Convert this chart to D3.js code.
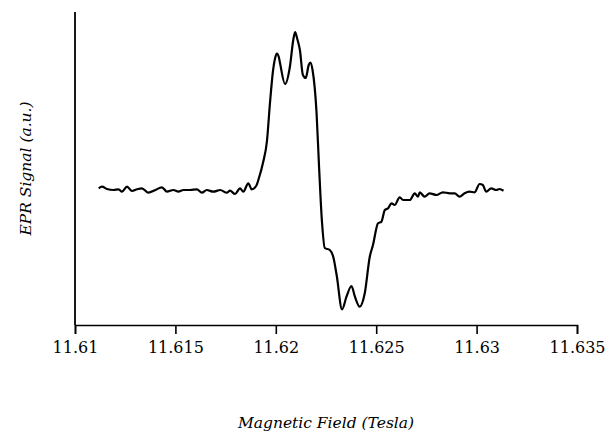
<!DOCTYPE html>
<html>
<head>
<meta charset="utf-8">
<script src="https://cdn.jsdelivr.net/npm/d3@7"></script>
<style>
  html, body { margin: 0; padding: 0; background: #fff; }
  svg { display: block; }
</style>
</head>
<body>
<div id="chart"></div>
<script>
// magnetic field (Tesla)
const field = [
  11.61118, 11.61135, 11.61159, 11.61192, 11.61217, 11.61234, 11.61259, 11.61284, 11.61309, 11.61333,
  11.61366, 11.61400, 11.61433, 11.61458, 11.61490, 11.61515, 11.61540, 11.61573, 11.61607, 11.61632,
  11.61656, 11.61689, 11.61723, 11.61756, 11.61772, 11.61797, 11.61822, 11.61838, 11.61863, 11.61880,
  11.61902, 11.61916, 11.61936, 11.61956, 11.61971, 11.61986, 11.61998, 11.62005, 11.62015, 11.62021,
  11.62046, 11.62070, 11.62087, 11.62096, 11.62107, 11.62120, 11.62135, 11.62149, 11.62164, 11.62172,
  11.62183, 11.62203, 11.62215, 11.62230, 11.62244,
  11.62269, 11.62286, 11.62303, 11.62330, 11.62352, 11.62377, 11.62394, 11.62418, 11.62443, 11.62468,
  11.62484, 11.62509, 11.62526, 11.62543, 11.62559, 11.62576, 11.62592, 11.62617, 11.62634, 11.62667,
  11.62692, 11.62708, 11.62717, 11.62741, 11.62766, 11.62800, 11.62832, 11.62866, 11.62891, 11.62915,
  11.62940, 11.62965, 11.62990, 11.63015, 11.63031, 11.63048, 11.63073, 11.63098, 11.63114, 11.63134
];

// EPR signal, arbitrary units (0 = baseline)
const signal = [
  -0.003, 0.013, -0.01, -0.02, -0.013, -0.037, 0.013, -0.03, -0.013, -0.003,
  -0.047, -0.02, 0.007, -0.037, -0.02, -0.037, -0.02, -0.02, -0.013, -0.047,
  -0.02, -0.037, -0.02, -0.047, -0.027, -0.06, -0.003, -0.037, 0.047, -0.013,
  0.02, 0.10, 0.25, 0.47, 0.85, 1.17, 1.31, 1.345, 1.31, 1.25,
  1.04, 1.21, 1.48, 1.56, 1.49, 1.38, 1.13, 1.10, 1.23, 1.255,
  1.18, 0.75, 0.23, -0.34, -0.60,
  -0.62, -0.687, -0.87, -1.213, -1.087, -0.98, -1.087, -1.187, -1.053, -0.687,
  -0.57, -0.353, -0.337, -0.22, -0.203, -0.153, -0.17, -0.093, -0.12, -0.12,
  -0.053, -0.087, -0.043, -0.087, -0.053, -0.07, -0.043, -0.053, -0.053, -0.087,
  -0.053, -0.037, -0.043, 0.04, 0.03, -0.037, -0.003, -0.02, -0.01, -0.027
];

const xTicks = [11.61, 11.615, 11.62, 11.625, 11.63, 11.635];
const xDomain = [11.61, 11.635];
const yDomain = [-1.37, 1.76];

const width = 608;
const height = 435;
const margin = { top: 12, right: 31, bottom: 110, left: 75 };

// Liberation Serif is not picked up here, DejaVu Serif is
const serif = 'DejaVu Serif';

const svg = d3.select('#chart')
  .append('svg')
  .attr('width', width)
  .attr('height', height);

const x = d3.scaleLinear()
  .domain(xDomain)
  .range([margin.left, width - margin.right]);

const y = d3.scaleLinear()
  .domain(yDomain)
  .range([height - margin.bottom, margin.top]);

// x axis
const xAxis = svg.append('g')
  .attr('transform', `translate(0,${height - margin.bottom})`)
  .call(d3.axisBottom(x)
    .tickValues(xTicks)
    .tickFormat(d3.format('~g'))
    .tickSizeOuter(0)
    .tickSize(9)
    .tickPadding(8));

xAxis.attr('font-family', serif).attr('font-size', 16);
xAxis.select('.domain').attr('stroke', '#000').attr('stroke-width', 1.6);
xAxis.selectAll('.tick line').attr('stroke', '#000').attr('stroke-width', 1.6);
xAxis.selectAll('.tick text').attr('fill', '#000');

// y axis: bare line, no ticks
svg.append('line')
  .attr('x1', x(xDomain[0]))
  .attr('x2', x(xDomain[0]))
  .attr('y1', y(yDomain[1]))
  .attr('y2', y(yDomain[0]))
  .attr('stroke', '#000')
  .attr('stroke-width', 1.8);

// the trace
const points = field.map((f, i) => [f, signal[i]]);
const line = d3.line()
  .x(d => x(d[0]))
  .y(d => y(d[1]))
  .curve(d3.curveMonotoneX);

svg.append('path')
  .datum(points)
  .attr('fill', 'none')
  .attr('stroke', '#000')
  .attr('stroke-width', 2.2)
  .attr('stroke-linejoin', 'round')
  .attr('d', line);

// axis titles
svg.append('text')
  .attr('x', (x.range()[0] + x.range()[1]) / 2)
  .attr('y', 428)
  .attr('text-anchor', 'middle')
  .attr('font-family', serif)
  .attr('font-style', 'italic')
  .attr('font-size', 15.5)
  .text('Magnetic Field (Tesla)');

svg.append('text')
  .attr('transform', `translate(31,${(y.range()[0] + y.range()[1]) / 2}) rotate(-90)`)
  .attr('text-anchor', 'middle')
  .attr('font-family', serif)
  .attr('font-style', 'italic')
  .attr('font-size', 15.5)
  .text('EPR Signal (a.u.)');
</script>
</body>
</html>
